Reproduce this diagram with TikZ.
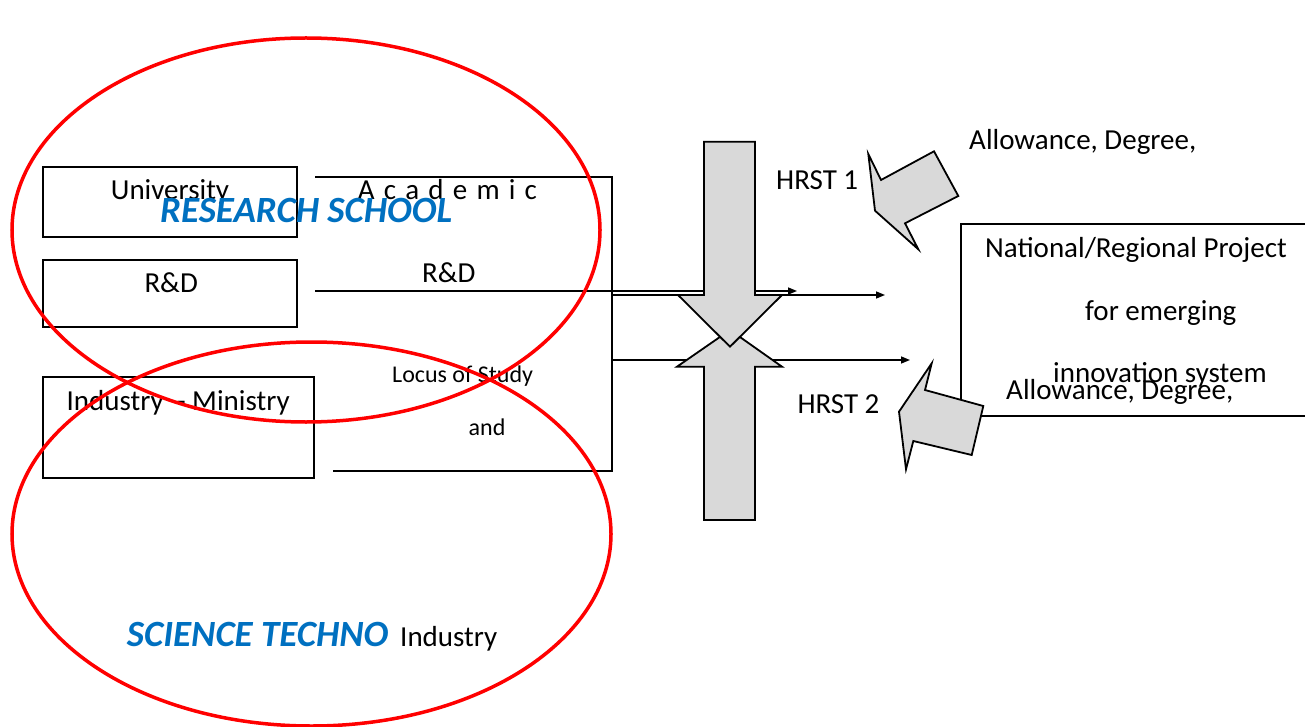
\documentclass[tikz,border=0pt]{standalone}
\usepackage{fontspec}
\setmainfont{Carlito}
\usetikzlibrary{arrows.meta}
\definecolor{myred}{HTML}{FF0000}
\definecolor{myblue}{HTML}{0070C0}
\definecolor{mygray}{HTML}{D9D9D9}
\newcommand\myls{\hspace{9.2pt}}
\begin{document}
\begin{tikzpicture}[x=1pt,y=-1pt,
  box/.style={draw=black,line width=1.6pt,inner sep=0pt},
  txt/.style={inner sep=0pt,anchor=base west,font=\fontsize{29}{31}\selectfont},
  smalltxt/.style={inner sep=0pt,anchor=base west,font=\fontsize{24}{26}\selectfont},
  bigtxt/.style={inner sep=0pt,anchor=base west,text=myblue,font=\fontsize{37}{40}\selectfont\bfseries\itshape},
  conn/.style={line width=1.4pt},
  arr/.style={conn,-{Triangle[length=9pt,width=7pt]}},
  blk/.style={draw=black,fill=mygray,line width=1.8pt,line join=miter},
  ring/.style={draw=myred,line width=3.5pt}]
\useasboundingbox (0,0) rectangle (1305,727);

% left boxes
\node[box,minimum width=254pt,minimum height=70pt] (univ) at (170,202) {};
\node[box,minimum width=254pt,minimum height=67pt] (rd) at (170,293.5) {};
\node[box,minimum width=271pt,minimum height=101pt] (ind) at (178.5,427.5) {};

\node[txt] (tuniv) at (110.7,200) {University};
\node[txt] (trd) at (144.3,292.7) {R\&D};
\node[txt] (tind) at (66.4,410) {Industry\ \ - Ministry};
\node[txt] (tacad) at (357.7,200) {A\myls c\myls a\myls d\myls e\myls m\myls i\myls c};
\node[txt] (trd2) at (422,282.7) {R\&D};
\node[smalltxt] (tlocus) at (392,382.7) {Locus of Study};
\node[smalltxt] (tand) at (468.5,435.7) {and};

% connectors
\coordinate (a0) at (315,177);
\coordinate (j1) at (612,177);
\coordinate (j2) at (612,471);
\coordinate (l0) at (333,471);
\draw[conn] (a0) -- (j1) -- (j2) -- (l0);
\coordinate (r0) at (315,291);
\coordinate (r1) at (797,291);
\draw[arr] (r0) -- (r1);
\coordinate (b0) at (612,295);
\coordinate (b1) at (885,295);
\coordinate (c0) at (612,360);
\coordinate (c1) at (910,360);
\draw[arr] (b0) -- (b1);
\draw[arr] (c0) -- (c1);
\draw[conn] (b0) -- (c0);

% big vertical arrows
\draw[blk] (704,520) -- (704,366.7) -- (677,366.7) -- (730,330) -- (782,366.7) -- (755,366.7) -- (755,520) -- cycle;
\draw[blk] (704,141.7) -- (755,141.7) -- (755,295) -- (782,295) -- (730,346.7) -- (678,295) -- (704,295) -- cycle;

% right box
\node[box,minimum width=349pt,minimum height=192pt] (natl) at (1135.5,320) {};
\node[txt] (tnat) at (985,257.7) {National/Regional Project};
\node[txt] (tfor) at (1085,320) {for emerging};
\node[txt] (tinn) at (1053,382.7) {innovation system};
\node[txt] (tall1) at (969,149.3) {Allowance, Degree,};
\node[txt] (tall2) at (1006,399.3) {Allowance, Degree,};
\node[txt] (th1) at (776,189.3) {HRST 1};
\node[txt] (th2) at (797.3,413.3) {HRST 2};

% HRST block arrows
\draw[blk] (868.3,154) -- (881,180) -- (934,151.3) -- (958.3,196) -- (905,223.3) -- (918.3,249.3) -- (875,210.7) -- cycle;
\draw[blk] (931.7,363.3) -- (925,390) -- (983.3,406) -- (971.7,455) -- (913.3,441) -- (906,469.3) -- (899,411.7) -- cycle;

% ellipses
\draw[ring] (306,230) ellipse [x radius=294, y radius=192];
\draw[ring] (311.5,534) ellipse [x radius=299.5, y radius=192];

\node[bigtxt] (trs) at (160,222.7) {RESEARCH SCHOOL};
\node[bigtxt] (tst) at (126.7,646) {SCIENCE TECHNO};
\node[txt] (tsti) at (400,646) {Industry};
\end{tikzpicture}
\end{document}
